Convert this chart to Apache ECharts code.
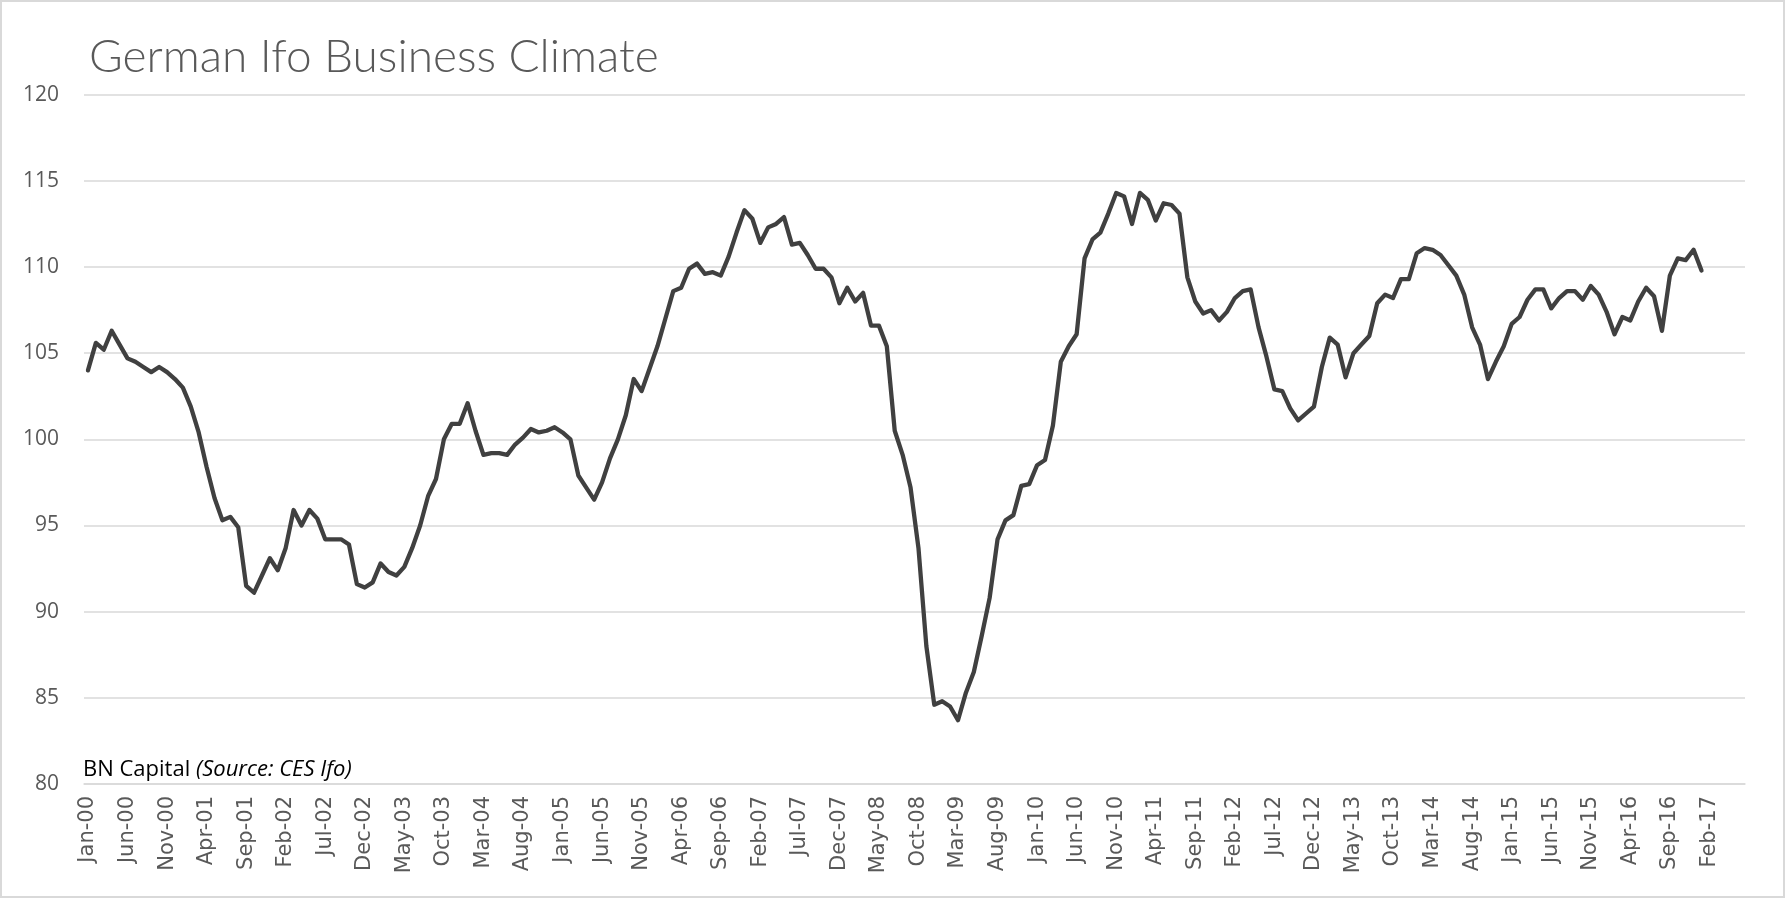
<!DOCTYPE html>
<html>
<head>
<meta charset="utf-8">
<script src="https://cdn.jsdelivr.net/npm/echarts@6/dist/echarts.min.js"></script>
<style>
  html, body { margin: 0; padding: 0; background: #fff; }
  #chart { width: 1785px; height: 898px; box-sizing: border-box; border: 2px solid #d9d9d9; }
</style>
</head>
<body>
<div id="chart"></div>
<script>
// ---- data ----
const MONTHS = ['Jan','Feb','Mar','Apr','May','Jun','Jul','Aug','Sep','Oct','Nov','Dec'];
const START_YEAR = 2000;
const AXIS_MONTHS = 210;          // Jan-00 .. Jun-17 on the axis
const LABEL_EVERY = 5;            // a tick label every 5 months

// Ifo business climate index, monthly from Jan-00 to Jan-17
const ifoValues = [
  104.0,105.6,105.2,106.3,105.5,104.7,104.5,104.2,103.9,104.2,103.9,103.5,
  103.0,101.9,100.4,98.4,96.6,95.3,95.5,94.9,91.5,91.1,92.1,93.1,
  92.4,93.7,95.9,95.0,95.9,95.4,94.2,94.2,94.2,93.9,91.6,91.4,
  91.7,92.8,92.3,92.1,92.6,93.7,95.0,96.7,97.7,100.0,100.9,100.9,
  102.1,100.5,99.1,99.2,99.2,99.1,99.7,100.1,100.6,100.4,100.5,100.7,
  100.4,100.0,97.9,97.2,96.5,97.5,98.9,100.0,101.4,103.5,102.8,104.1,
  105.4,107.0,108.6,108.8,109.9,110.2,109.6,109.7,109.5,110.6,112.0,113.3,
  112.8,111.4,112.3,112.5,112.9,111.3,111.4,110.7,109.9,109.9,109.4,107.9,
  108.8,108.0,108.5,106.6,106.6,105.4,100.5,99.1,97.2,93.7,88.0,84.6,
  84.8,84.5,83.7,85.3,86.5,88.6,90.8,94.2,95.3,95.6,97.3,97.4,
  98.5,98.8,100.8,104.5,105.4,106.1,110.5,111.6,112.0,113.1,114.3,114.1,
  112.5,114.3,113.9,112.7,113.7,113.6,113.1,109.4,108.0,107.3,107.5,106.9,
  107.4,108.2,108.6,108.7,106.5,104.8,102.9,102.8,101.8,101.1,101.5,101.9,
  104.2,105.9,105.5,103.6,105.0,105.5,106.0,107.9,108.4,108.2,109.3,109.3,
  110.8,111.1,111.0,110.7,110.1,109.5,108.4,106.5,105.5,103.5,104.5,105.4,
  106.7,107.1,108.1,108.7,108.7,107.6,108.2,108.6,108.6,108.1,108.9,108.4,
  107.4,106.1,107.1,106.9,108.0,108.8,108.3,106.3,109.5,110.5,110.4,111.0,
  109.8
];

const yTicks = { min: 80, max: 120, step: 5 };
const titleText = 'German Ifo Business Climate';
const noteMain = 'BN Capital ';
const noteSource = '(Source: CES Ifo)';

// ---- build ----
const categories = [];
for (let i = 0; i < AXIS_MONTHS; i++) {
  const y = START_YEAR + Math.floor(i / 12);
  categories.push(MONTHS[i % 12] + '-' + String(y % 100).padStart(2, '0'));
}

const chart = echarts.init(document.getElementById('chart'), null, { renderer: 'canvas' });
chart.setOption({
  animation: false,
  backgroundColor: '#ffffff',
  title: {
    text: titleText,
    left: 82,
    top: 27,
    textStyle: { fontFamily: 'Lato', fontWeight: 300, fontSize: 46, color: '#595959' }
  },
  grid: { left: 82, right: 38, top: 92.7, bottom: 112, containLabel: false },
  xAxis: {
    type: 'category',
    data: categories,
    boundaryGap: true,
    axisLine: { show: true, lineStyle: { color: '#d9d9d9', width: 1.5 } },
    axisTick: { show: false },
    axisLabel: {
      interval: LABEL_EVERY - 1,
      rotate: 90,
      margin: 12,
      color: '#595959',
      fontFamily: 'DejaVu Sans',
      fontSize: 21
    },
    splitLine: { show: false }
  },
  yAxis: {
    type: 'value',
    min: yTicks.min,
    max: yTicks.max,
    interval: yTicks.step,
    axisLine: { show: false },
    axisTick: { show: false },
    axisLabel: { color: '#595959', fontFamily: 'Open Sans', fontSize: 21, margin: 25 },
    splitLine: { lineStyle: { color: '#d9d9d9', width: 1.5 } }
  },
  graphic: [{
    type: 'text',
    left: 81,
    top: 757,
    style: {
      rich: {
        a: { fontFamily: 'Open Sans', fontSize: 22, fill: '#000000' },
        b: { fontFamily: 'Open Sans', fontSize: 22, fontStyle: 'italic', fill: '#000000' }
      },
      text: '{a|' + noteMain + '}{b|' + noteSource + '}'
    }
  }],
  series: [{
    type: 'line',
    data: ifoValues,
    symbol: 'none',
    lineStyle: { color: '#404040', width: 4.3, join: 'round', cap: 'round' },
    itemStyle: { color: '#404040' }
  }]
});
</script>
</body>
</html>
